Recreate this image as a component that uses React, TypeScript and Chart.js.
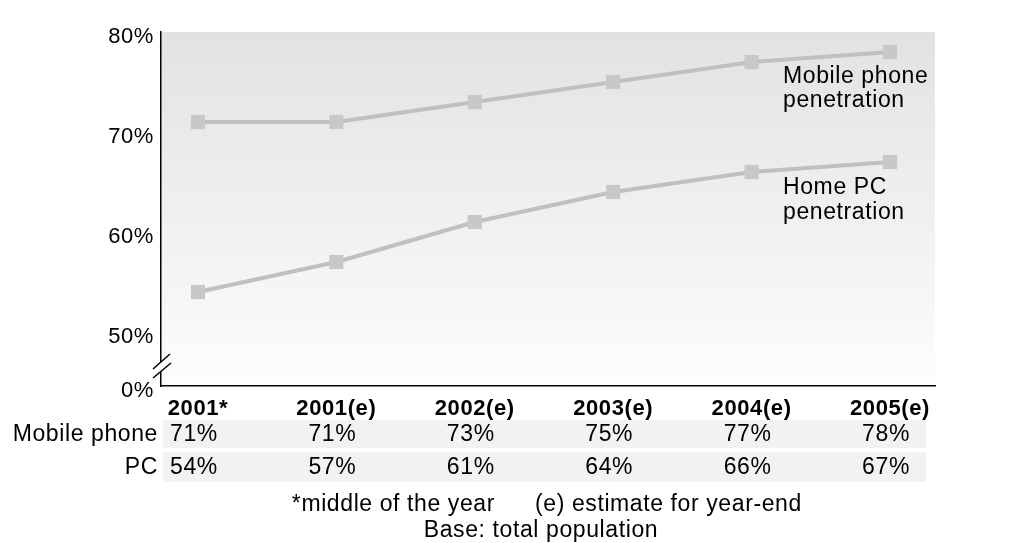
import React, { useEffect, useRef } from "react";
import { Chart, registerables } from "chart.js";

Chart.register(...registerables);

const categories = ["2001*", "2001(e)", "2002(e)", "2003(e)", "2004(e)", "2005(e)"];
const mobileValues = [71, 71, 73, 75, 77, 78];
const pcValues = [54, 57, 61, 64, 66, 67];
const yTickValues = [50, 60, 70, 80];
const yBreakValue = 44.6;
const yBreakLabel = "0%";
const rowLabels = ["Mobile phone", "PC"];
const mobileSeriesLabel = ["Mobile phone", "penetration"];
const pcSeriesLabel = ["Home PC", "penetration"];
const footnoteLeft = "*middle of the year";
const footnoteRight = "(e) estimate for year-end";
const footnoteBase = "Base: total population";

const FONT = "'Liberation Sans', Arial, sans-serif";
const SPACING = "0.6px";

export default function App() {
  const ref = useRef<HTMLCanvasElement | null>(null);

  useEffect(() => {
    const canvas = ref.current;
    if (!canvas) return;

    const bgPlugin = {
      id: "bgPlugin",
      beforeDraw(chart: any) {
        const { ctx, chartArea } = chart;
        ctx.save();
        const g = ctx.createLinearGradient(0, chartArea.top, 0, chartArea.bottom);
        g.addColorStop(0, "#e2e2e2");
        g.addColorStop(1, "#fdfdfd");
        ctx.fillStyle = g;
        ctx.fillRect(chartArea.left, chartArea.top, chartArea.right - chartArea.left, chartArea.bottom - chartArea.top);
        ctx.restore();
        (ctx as any).letterSpacing = SPACING;
      },
    };

    const extrasPlugin = {
      id: "extrasPlugin",
      afterDraw(chart: any) {
        const { ctx, chartArea } = chart;
        const xs = chart.scales.x;
        const ys = chart.scales.y;
        ctx.save();
        (ctx as any).letterSpacing = SPACING;

        // axis break marks
        const bx = chartArea.left;
        const by = chartArea.bottom - 20;
        ctx.fillStyle = "#ffffff";
        ctx.beginPath();
        ctx.moveTo(bx - 8, by + 3);
        ctx.lineTo(bx + 9, by - 12);
        ctx.lineTo(bx + 10, by - 3);
        ctx.lineTo(bx - 8, by + 12);
        ctx.closePath();
        ctx.fill();
        ctx.strokeStyle = "#000";
        ctx.lineWidth = 1.5;
        ctx.beginPath();
        ctx.moveTo(bx - 8, by + 3);
        ctx.lineTo(bx + 9, by - 12);
        ctx.moveTo(bx - 8, by + 12);
        ctx.lineTo(bx + 10, by - 3);
        ctx.stroke();

        // series annotations
        ctx.fillStyle = "#000";
        ctx.font = `23px ${FONT}`;
        ctx.textAlign = "left";
        ctx.textBaseline = "middle";
        const last = categories.length - 1;
        const lx = xs.getPixelForValue(last) - 107;
        const my = ys.getPixelForValue(mobileValues[last]);
        ctx.fillText(mobileSeriesLabel[0], lx, my + 25);
        ctx.fillText(mobileSeriesLabel[1], lx, my + 49);
        const py = ys.getPixelForValue(pcValues[last]);
        ctx.fillText(pcSeriesLabel[0], lx, py + 26);
        ctx.fillText(pcSeriesLabel[1], lx, py + 51);

        // data table
        const rows = [mobileValues, pcValues];
        const rowTops = [chartArea.bottom + 34, chartArea.bottom + 66];
        const rowH = [28, 30];
        rows.forEach((vals, r) => {
          ctx.fillStyle = "#f2f2f2";
          ctx.fillRect(chartArea.left + 2, rowTops[r], chartArea.right - 9 - (chartArea.left + 2), rowH[r]);
          const cy = rowTops[r] + rowH[r] / 2 + 1;
          ctx.fillStyle = "#000";
          ctx.textAlign = "right";
          ctx.fillText(rowLabels[r], chartArea.left - 3, cy);
          ctx.textAlign = "center";
          vals.forEach((v, i) => {
            ctx.fillText(`${v}%`, xs.getPixelForValue(i) - 4, cy);
          });
        });

        // footnotes
        ctx.textBaseline = "alphabetic";
        ctx.textAlign = "right";
        ctx.fillText(footnoteLeft, 495, 511);
        ctx.textAlign = "left";
        ctx.fillText(footnoteRight, 535, 511);
        ctx.textAlign = "center";
        ctx.fillText(footnoteBase, 541, 537);
        ctx.restore();
      },
    };

    const lineStyle = {
      borderColor: "#c0c0c0",
      borderWidth: 4,
      pointStyle: "rect" as const,
      pointRadius: 10,
      pointBackgroundColor: "#c8c8c8",
      pointBorderWidth: 0,
      tension: 0,
    };

    const chart = new Chart(canvas, {
      type: "line",
      data: {
        datasets: [
          { label: "Mobile phone penetration", data: mobileValues.map((v, i) => ({ x: i, y: v })), ...lineStyle },
          { label: "Home PC penetration", data: pcValues.map((v, i) => ({ x: i, y: v })), ...lineStyle },
        ],
      },
      options: {
        animation: false,
        responsive: false,
        devicePixelRatio: 1,
        layout: { padding: { left: 0, top: 32, right: 98, bottom: 0 } },
        plugins: { legend: { display: false }, tooltip: { enabled: false } },
        scales: {
          x: {
            type: "linear",
            min: -0.267,
            max: 5.325,
            afterBuildTicks: (s: any) => {
              s.ticks = categories.map((_, i) => ({ value: i }));
            },
            afterFit: (s: any) => {
              s.height = 543 - 386;
            },
            ticks: {
              callback: (v: any) => categories[v as number] ?? "",
              font: { family: FONT, size: 22, weight: "bold" },
              color: "#000",
              padding: 10,
              maxRotation: 0,
              autoSkip: false,
            },
            grid: { display: false, drawTicks: false },
            border: { color: "#000", width: 1.5 },
          },
          y: {
            type: "linear",
            min: yBreakValue,
            max: 80,
            afterBuildTicks: (s: any) => {
              s.ticks = [yBreakValue, ...yTickValues].map((value) => ({ value }));
            },
            afterFit: (s: any) => {
              s.width = 161;
            },
            ticks: {
              callback: (v: any) => (v === yBreakValue ? yBreakLabel : `${v}%`),
              font: { family: FONT, size: 22 },
              color: "#000",
              padding: 7,
              labelOffset: 5,
              autoSkip: false,
            },
            grid: { display: false, drawTicks: false },
            border: { color: "#000", width: 1.5 },
          },
        },
      },
      plugins: [bgPlugin, extrasPlugin],
    });

    return () => chart.destroy();
  }, []);

  return (
    <div style={{ position: "absolute", left: 0, top: 0, width: 1033, height: 543, background: "#fff" }}>
      <canvas ref={ref} width={1033} height={543} style={{ display: "block" }} />
    </div>
  );
}
